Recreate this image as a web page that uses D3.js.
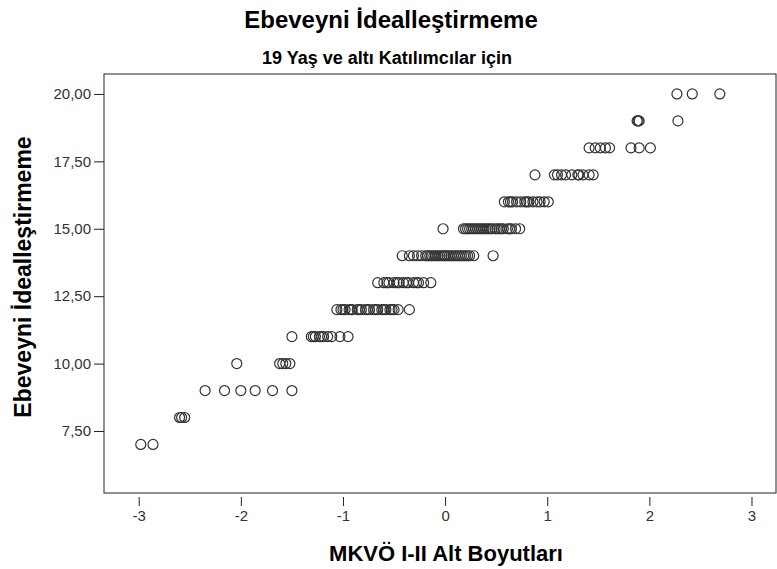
<!DOCTYPE html>
<html>
<head>
<meta charset="utf-8">
<script src="https://cdn.jsdelivr.net/npm/d3@7"></script>
<style>
  body { margin: 0; background: #fff; }
  text { font-family: "Liberation Sans", Arial, sans-serif; }
</style>
</head>
<body>
<script>
// scatter values, one array per y level (Ebeveyni Idealleştirmeme score)
var row7  = [-2.98, -2.86];
var row8  = [-2.60, -2.58, -2.55];
var row9  = [-2.35, -2.16, -2.00, -1.86, -1.69, -1.50];
var row10 = [-2.04, -1.62, -1.59, -1.56, -1.52];
var row11 = [-1.50, -1.31, -1.29, -1.27, -1.23, -1.21, -1.19, -1.15, -1.11, -1.03, -0.95];
var row12 = [-1.06, -1.02, -1.00, -0.98, -0.94, -0.92, -0.91, -0.86, -0.84, -0.82, -0.78,
             -0.76, -0.74, -0.70, -0.68, -0.66, -0.62, -0.60, -0.58, -0.54, -0.52, -0.50,
             -0.46, -0.35];
var row13 = [-0.66, -0.60, -0.57, -0.55, -0.50, -0.47, -0.45, -0.41, -0.38, -0.36,
             -0.31, -0.28, -0.26, -0.21, -0.14];
var row14 = [-0.42, -0.35, -0.31, -0.27, -0.23, -0.19, -0.17, -0.15, -0.13, -0.11,
             -0.09, -0.07, -0.05, -0.03, -0.01, 0.00, 0.02, 0.04, 0.06, 0.08, 0.10,
             0.12, 0.14, 0.16, 0.18, 0.20, 0.22, 0.24, 0.28, 0.47];
var row15 = [-0.02, 0.18, 0.20, 0.22, 0.24, 0.26, 0.28, 0.30, 0.32, 0.34, 0.36, 0.38,
             0.40, 0.42, 0.44, 0.46, 0.49, 0.51, 0.53, 0.55, 0.57, 0.61, 0.63, 0.65,
             0.69, 0.73];
var row16 = [0.58, 0.62, 0.64, 0.66, 0.70, 0.74, 0.78, 0.80, 0.82, 0.86, 0.90, 0.93, 0.97, 1.01];
var row17 = [0.88, 1.07, 1.10, 1.14, 1.18, 1.24, 1.30, 1.31, 1.35, 1.41, 1.45];
var row18 = [1.41, 1.47, 1.52, 1.57, 1.61, 1.82, 1.90, 2.01];
var row19 = [1.88, 1.89, 1.90, 2.28];
var row20 = [2.27, 2.42, 2.69];

var rows = [[7, row7], [8, row8], [9, row9], [10, row10], [11, row11], [12, row12],
            [13, row13], [14, row14], [15, row15], [16, row16], [17, row17],
            [18, row18], [19, row19], [20, row20]];

var xTicks = [-3, -2, -1, 0, 1, 2, 3];
var yTicks = [7.5, 10, 12.5, 15, 17.5, 20];

var points = [];
rows.forEach(function(r) {
  r[1].forEach(function(v) { points.push({x: v, y: r[0]}); });
});

var width = 777, height = 569;
var pLeft = 104, pRight = 776, pTop = 74, pBottom = 493;

var svg = d3.select("body").append("svg")
  .attr("width", width)
  .attr("height", height);

var x = d3.scaleLinear().domain([-3.34, 3.24]).range([pLeft, pRight]);
var y = d3.scaleLinear().domain([5.2, 20.74]).range([pBottom, pTop]);

// frame
svg.append("rect")
  .attr("x", pLeft).attr("y", pTop)
  .attr("width", pRight - pLeft).attr("height", pBottom - pTop)
  .attr("fill", "none").attr("stroke", "#222").attr("stroke-width", 1);

// y axis
var yAxis = d3.axisLeft(y).tickValues(yTicks).tickSize(10).tickPadding(3)
  .tickFormat(function(d) { return d3.format(".2f")(d).replace(".", ","); });
var gy = svg.append("g").attr("transform", "translate(" + pLeft + ",0)").call(yAxis);
gy.select(".domain").remove();
gy.selectAll("line").attr("stroke", "#222");
gy.selectAll("text").attr("font-size", 15).attr("fill", "#333")
  .style("font-family", "Liberation Sans, Arial, sans-serif");

// x axis, drawn a few px below the frame
var xAxis = d3.axisBottom(x).tickValues(xTicks).tickSize(9).tickPadding(4)
  .tickFormat(function(d) { return String(d); });
var gx = svg.append("g").attr("transform", "translate(0," + (pBottom + 4) + ")").call(xAxis);
gx.select(".domain").remove();
gx.selectAll("line").attr("stroke", "#222");
gx.selectAll("text").attr("font-size", 15).attr("fill", "#333")
  .style("font-family", "Liberation Sans, Arial, sans-serif");

// points
svg.append("g").selectAll("circle")
  .data(points)
  .enter().append("circle")
  .attr("cx", function(d) { return x(d.x); })
  .attr("cy", function(d) { return y(d.y); })
  .attr("r", 5)
  .attr("fill", "none")
  .attr("stroke", "#333")
  .attr("stroke-width", 1.2);

// titles
svg.append("text")
  .attr("x", 391).attr("y", 28)
  .attr("text-anchor", "middle")
  .attr("font-size", 24).attr("font-weight", "bold")
  .text("Ebeveyni İdealleştirmeme");

svg.append("text")
  .attr("x", 387).attr("y", 64)
  .attr("text-anchor", "middle")
  .attr("font-size", 18).attr("font-weight", "bold")
  .text("19 Yaş ve altı Katılımcılar için");

svg.append("text")
  .attr("x", 446).attr("y", 561)
  .attr("text-anchor", "middle")
  .attr("font-size", 22).attr("font-weight", "bold")
  .text("MKVÖ I-II Alt Boyutları");

svg.append("text")
  .attr("transform", "translate(31,277) rotate(-90)")
  .attr("text-anchor", "middle")
  .attr("font-size", 23).attr("font-weight", "bold")
  .text("Ebeveyni İdealleştirmeme");
</script>
</body>
</html>
